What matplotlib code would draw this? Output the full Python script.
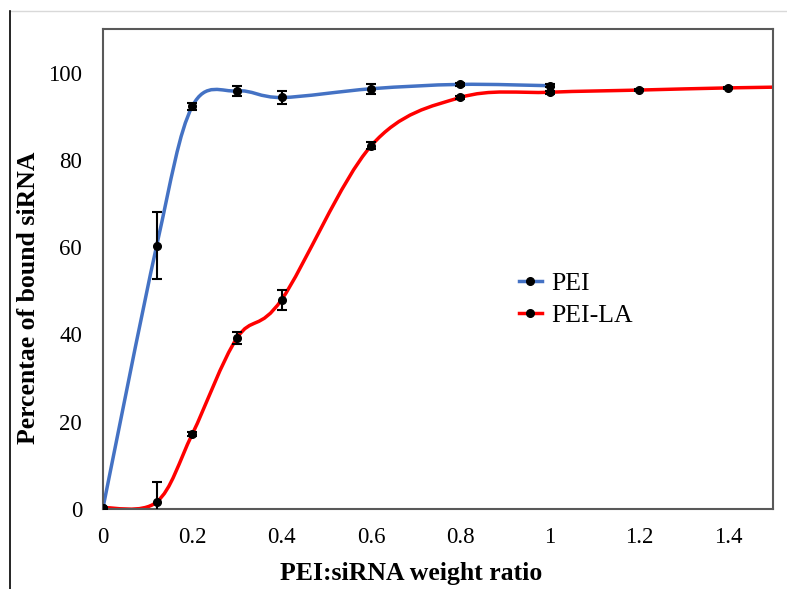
import numpy as np
import matplotlib.pyplot as plt
from matplotlib.path import Path
from matplotlib.patches import PathPatch
from matplotlib.lines import Line2D

# PEI
pei_x = [0, 0.12, 0.2, 0.3, 0.4, 0.6, 0.8, 1.0]
pei_y = [0.3, 60.3, 92.3, 95.8, 94.3, 96.3, 97.3, 97.0]
pei_err = [0, 7.7, 0.8, 1.2, 1.4, 1.1, 0.4, 0.4]

# PEI-LA (last point lies past the axis edge, only its curve shows)
la_x = [0, 0.12, 0.2, 0.3, 0.4, 0.6, 0.8, 1.0, 1.2, 1.4, 1.6]
la_y = [0.3, 1.6, 17.2, 39.2, 48.0, 83.2, 94.3, 95.5, 96.0, 96.5, 96.8]
la_err = [0, 4.5, 0.4, 1.3, 2.3, 0.8, 0.3, 0.3, 0.2, 0.2, 0]

xticks = [0, 0.2, 0.4, 0.6, 0.8, 1, 1.2, 1.4]
xticklabels = ['0', '0.2', '0.4', '0.6', '0.8', '1', '1.2', '1.4']
yticks = [0, 20, 40, 60, 80, 100]

plt.rcParams['font.family'] = ['Liberation Serif', 'DejaVu Serif']


def smooth_path(x, y):
    # excel style smoothed line: cubic bezier through the points
    p = np.column_stack([x, y]).astype(float)
    verts = [p[0]]
    codes = [Path.MOVETO]
    n = len(p)
    for i in range(n - 1):
        p0 = p[i - 1] if i > 0 else p[i]
        p3 = p[i + 2] if i + 2 < n else p[i + 1]
        c1 = p[i] + (p[i + 1] - p0) / 6
        c2 = p[i + 1] - (p3 - p[i]) / 6
        verts += [c1, c2, p[i + 1]]
        codes += [Path.CURVE4] * 3
    return Path(verts, codes)


fig = plt.figure(figsize=(7.87, 5.89), dpi=100)
ax = fig.add_axes([0.1309, 0.1358, 0.8513, 0.815])

ax.add_patch(PathPatch(smooth_path(pei_x, pei_y), fill=False, ec='#4472c4', lw=2.5, zorder=2))
ax.add_patch(PathPatch(smooth_path(la_x, la_y), fill=False, ec='#ff0000', lw=2.5, zorder=2))

for x, y, e in [(pei_x, pei_y, pei_err), (la_x, la_y, la_err)]:
    ax.errorbar(x, y, yerr=e, fmt='o', color='black', ms=5.5, ecolor='black',
                elinewidth=1.5, capsize=3.5, capthick=1.5, zorder=3)

ax.set_xlim(0, 1.5)
ax.set_ylim(0, 110)
ax.set_xticks(xticks)
ax.set_xticklabels(xticklabels)
ax.set_yticks(yticks)
ax.tick_params(length=0, labelsize=16.5)
ax.tick_params(axis='x', pad=13)
ax.tick_params(axis='y', pad=15)
for s in ax.spines.values():
    s.set_color('#595959')
    s.set_linewidth(1.5)

ax.set_xlabel('PEI:siRNA weight ratio', fontsize=18.5, fontweight='bold')
ax.set_ylabel('Percentae of bound siRNA', fontsize=18.5, fontweight='bold')
ax.xaxis.set_label_coords(0.46, -0.11)
ax.yaxis.set_label_coords(-0.094, 0.44)

handles = [Line2D([], [], color='#4472c4', lw=2.5, marker='o', mfc='black', mec='black', ms=5.5),
           Line2D([], [], color='#ff0000', lw=2.5, marker='o', mfc='black', mec='black', ms=5.5)]
fig.legend(handles, ['PEI', 'PEI-LA'], loc='center left', bbox_to_anchor=(0.63, 0.4915),
           frameon=False, fontsize=18.5, handlelength=0.9, handletextpad=0.35, labelspacing=0.38)

# outer frame lines seen in the reference
fig.add_artist(Line2D([10 / 787, 1], [1 - 11 / 589] * 2, color='#d9d9d9', lw=1))
fig.add_artist(Line2D([9.5 / 787] * 2, [0, 1 - 11 / 589], color='black', lw=1.2))

fig.savefig('out.png', dpi=100)
